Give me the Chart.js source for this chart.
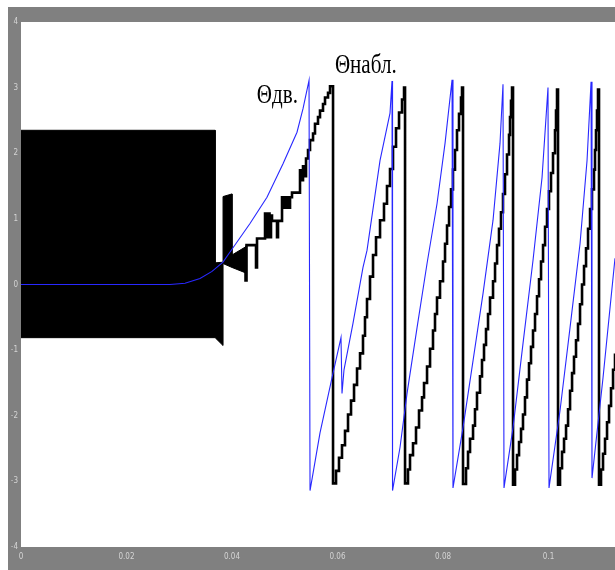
<!DOCTYPE html>
<html><head><meta charset="utf-8">
<script src="https://cdn.jsdelivr.net/npm/chart.js@4.4.0/dist/chart.umd.min.js"></script>
<style>html,body{margin:0;padding:0;background:#fff;}canvas{display:block;}</style>
</head><body>
<canvas id="c" width="615" height="570"></canvas>
<script>
// ---- tick labels ----
const xTickValues = [0, 0.02, 0.04, 0.06, 0.08, 0.1];
const yTickValues = [-4, -3, -2, -1, 0, 1, 2, 3, 4];

// ---- dense noisy part of observed angle (drawn as filled band) ----
const bandT     = [0, 0.0368, 0.0368, 0.0383, 0.0383, 0.0400, 0.0400, 0.0425];
const bandUpper = [2.35, 2.35, 0.33, 0.34, 1.34, 1.38, 0.45, 0.57];
const bandLower = [-0.81, -0.81, -0.81, -0.93, 0.32, 0.26, 0.26, 0.18];

// ---- observed angle (Θнабл.), staircase ----
const obsT = [
 0.04246,0.04256,0.04275,0.04455,0.04474,0.04626,0.04654,0.04682,0.04711,0.04739,0.04758,0.04853,0.04872,
 0.04948,0.04986,0.05024,0.05062,0.05100,0.05137,0.05289,0.05318,0.05346,0.05374,0.05403,0.05441,0.05479,
 0.05536,0.05573,0.05630,0.05668,0.05725,0.05763,0.05820,0.05858,
 0.05915,0.05972,0.06028,0.06085,0.06142,0.06199,0.06256,0.06313,0.06370,0.06427,0.06483,0.06521,0.06559,
 0.06616,0.06673,0.06730,0.06806,0.06881,0.06938,0.06995,0.07052,0.07109,0.07166,0.07223,0.07261,
 0.07280,0.07336,0.07374,0.07431,0.07488,0.07545,0.07602,0.07640,0.07697,0.07754,0.07810,0.07848,0.07886,
 0.07943,0.08000,0.08038,0.08076,0.08114,0.08152,0.08189,0.08227,0.08265,0.08303,0.08341,0.08360,
 0.08379,0.08436,0.08474,0.08512,0.08569,0.08606,0.08644,0.08701,0.08739,0.08777,0.08815,0.08853,0.08891,
 0.08948,0.08986,0.09024,0.09061,0.09099,0.09137,0.09175,0.09213,0.09251,0.09270,0.09289,0.09308,
 0.09327,0.09365,0.09403,0.09441,0.09479,0.09516,0.09554,0.09592,0.09630,0.09668,0.09706,0.09744,0.09782,
 0.09820,0.09858,0.09896,0.09934,0.09971,0.10009,0.10047,0.10085,0.10123,0.10142,0.10161,
 0.10180,0.10218,0.10256,0.10294,0.10332,0.10370,0.10408,0.10446,0.10483,0.10521,0.10559,0.10597,0.10635,
 0.10673,0.10711,0.10749,0.10787,0.10824,0.10862,0.10881,0.10900,0.10919,0.10938,
 0.10957,0.10995,0.11033,0.11071,0.11109,0.11147,0.11185,0.11223,0.11260
];
const obsV = [
 0.57,0.06,0.60,0.26,0.70,1.08,0.72,1.08,0.72,1.05,0.97,0.72,0.97,
 1.33,1.17,1.33,1.17,1.33,1.40,1.74,1.59,1.80,1.65,1.92,2.05,2.20,
 2.30,2.45,2.55,2.65,2.75,2.85,2.92,3.02,
 -3.03,-2.84,-2.64,-2.45,-2.23,-1.98,-1.77,-1.53,-1.28,-1.05,-0.78,-0.50,-0.22,
 0.12,0.45,0.72,0.98,1.23,1.50,1.76,2.10,2.38,2.62,2.82,3.00,
 -3.03,-2.82,-2.60,-2.42,-2.18,-1.92,-1.72,-1.50,-1.25,-0.98,-0.70,-0.45,-0.20,
 0.05,0.35,0.62,0.90,1.18,1.45,1.75,2.05,2.35,2.60,2.85,3.00,
 -3.04,-2.80,-2.55,-2.35,-2.15,-1.90,-1.65,-1.40,-1.15,-0.92,-0.68,-0.45,-0.20,
 0.05,0.32,0.60,0.85,1.10,1.38,1.68,1.98,2.28,2.55,2.80,3.00,
 -3.05,-2.82,-2.60,-2.40,-2.20,-1.98,-1.72,-1.45,-1.20,-0.95,-0.70,-0.45,-0.18,
 0.08,0.35,0.60,0.88,1.15,1.42,1.70,2.00,2.35,2.65,2.97,
 -3.05,-2.80,-2.55,-2.35,-2.15,-1.90,-1.62,-1.35,-1.10,-0.85,-0.60,-0.30,0.00,
 0.28,0.55,0.85,1.15,1.45,1.75,2.05,2.35,2.65,2.97,
 -3.05,-2.82,-2.58,-2.35,-2.10,-1.85,-1.58,-1.30,-1.05
];

// ---- motor angle (Θдв.) ----
const drvT = [
 0,0.02825,0.03109,0.03393,0.03621,0.03829,0.04019,0.04341,0.04663,0.04967,0.05232,0.05346,0.05460,
 0.05479,0.05668,0.05896,0.06066,0.06085,0.06123,0.06294,0.06483,0.06559,0.06806,0.06995,0.07033,
 0.07043,0.07185,0.07318,0.07507,0.07697,0.07886,0.08038,0.08171,
 0.08189,0.08379,0.08569,0.08758,0.08948,0.09080,0.09137,
 0.09156,0.09327,0.09516,0.09706,0.09877,0.09990,
 0.10009,0.10218,0.10407,0.10597,0.10730,0.10806,
 0.10824,0.11033,0.11260
];
const drvV = [
 0,0,0.02,0.09,0.20,0.34,0.56,0.93,1.33,1.84,2.32,2.68,3.11,
 -3.14,-2.26,-1.42,-0.81,-1.66,-1.30,-0.59,0.26,0.52,1.89,2.61,3.10,
 -3.14,-2.48,-1.66,-0.66,0.32,1.23,2.15,3.12,
 -3.10,-2.18,-1.16,-0.14,0.98,2.15,3.05,
 -3.10,-2.18,-0.90,0.37,1.63,3.00,
 -3.10,-1.92,-0.66,0.62,1.89,3.09,
 -2.95,-1.42,0.40
];

// ---- annotation texts ----
const labelTexts = ['Θдв.', 'Θнабл.'];
const labelT = [0.0447, 0.0595];
const labelV = [2.76, 3.22];

const pts = (xs, ys) => xs.map((x, i) => ({x: x, y: ys[i]}));

const framePlugin = {
  id: 'frame',
  beforeDraw(chart) {
    const ctx = chart.ctx, a = chart.chartArea;
    ctx.save();
    ctx.fillStyle = '#ffffff';
    ctx.fillRect(0, 0, chart.width, chart.height);
    ctx.fillStyle = '#808080';
    ctx.fillRect(8, 7, chart.width - 8, chart.height - 7);
    ctx.fillStyle = '#ffffff';
    ctx.fillRect(a.left, a.top, a.right - a.left, a.bottom - a.top);
    ctx.restore();
  },
  afterDatasetsDraw(chart) {
    const ctx = chart.ctx, xs = chart.scales.x, ys = chart.scales.y;
    ctx.save();
    ctx.fillStyle = '#000';
    ctx.font = '27px "Liberation Serif", "Times New Roman", serif';
    ctx.textBaseline = 'alphabetic';
    labelTexts.forEach((t, i) => {
      ctx.save();
      ctx.translate(xs.getPixelForValue(labelT[i]), ys.getPixelForValue(labelV[i]));
      ctx.scale(0.78, 1);
      ctx.fillText(t, 0, 0);
      ctx.restore();
    });
    ctx.restore();
  }
};

const tickFont = {family: '"Liberation Sans Narrow", "DejaVu Sans Condensed", "Liberation Sans", sans-serif', size: 8};

new Chart(document.getElementById('c'), {
  type: 'line',
  data: {
    datasets: [
      {label: 'Θдв.', data: pts(drvT, drvV), borderColor: 'rgb(40,40,255)', borderWidth: 1.1,
       pointRadius: 0, fill: false, tension: 0, order: 0},
      {label: 'Θнабл.', data: pts(obsT, obsV), borderColor: '#000', borderWidth: 2.6,
       pointRadius: 0, fill: false, stepped: 'before', order: 1},
      {label: 'band', data: pts(bandT, bandUpper), borderColor: '#000', borderWidth: 1,
       backgroundColor: '#000', pointRadius: 0, fill: '+1', tension: 0, order: 2},
      {label: 'bandLow', data: pts(bandT, bandLower), borderColor: '#000', borderWidth: 1,
       pointRadius: 0, fill: false, tension: 0, order: 3}
    ]
  },
  options: {
    responsive: false,
    animation: false,
    events: [],
    layout: {padding: {left: 0, top: 22, right: 0, bottom: 0}},
    plugins: {legend: {display: false}, tooltip: {enabled: false}},
    scales: {
      x: {
        type: 'linear', min: 0, max: 0.1126,
        grid: {display: false, drawTicks: false}, border: {display: false},
        afterBuildTicks: s => { s.ticks = xTickValues.map(v => ({value: v})); },
        afterFit: s => { s.height = 23; },
        ticks: {color: '#d4d4d4', font: tickFont, padding: 5, maxRotation: 0, autoSkip: false,
                callback: v => String(Number(v.toFixed(2)))}
      },
      y: {
        type: 'linear', min: -4, max: 4,
        grid: {display: false, drawTicks: false}, border: {display: false},
        afterBuildTicks: s => { s.ticks = yTickValues.map(v => ({value: v})); },
        afterFit: s => { s.width = 21; },
        ticks: {color: '#d4d4d4', font: tickFont, padding: 3, autoSkip: false}
      }
    }
  },
  plugins: [framePlugin]
});
</script></body></html>
